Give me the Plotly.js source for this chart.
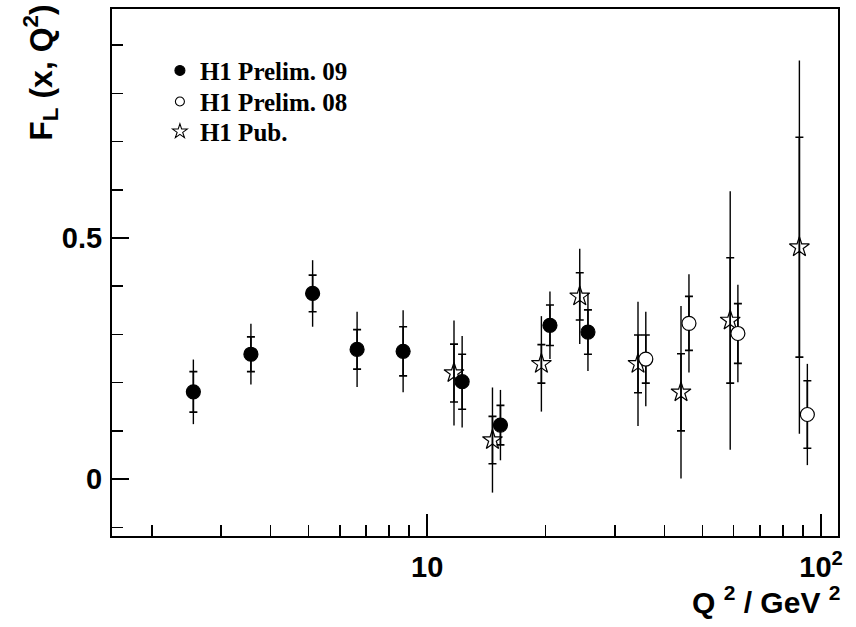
<!DOCTYPE html>
<html>
<head>
<meta charset="utf-8">
<script src="https://cdn.plot.ly/plotly-3.0.1.min.js"></script>
<style>html,body{margin:0;padding:0;background:#fff;}#plot{width:856px;height:627px;}</style>
</head>
<body>
<div id="plot"></div>
<script>
// H1 Prelim. 09 (filled circles)
var q2_p09   = [2.55, 3.57, 5.12, 6.64, 8.69, 12.27, 15.35, 20.5, 25.6];
var fl_p09   = [0.181, 0.259, 0.385, 0.269, 0.265, 0.202, 0.112, 0.319, 0.305];
var stat_p09 = [0.042, 0.036, 0.038, 0.041, 0.051, 0.057, 0.041, 0.042, 0.046];
var tot_p09  = [0.067, 0.063, 0.069, 0.078, 0.085, 0.095, 0.073, 0.070, 0.081];

// H1 Prelim. 08 (open circles)
var q2_p08   = [35.9, 46.2, 61.5, 92.3];
var fl_p08   = [0.249, 0.323, 0.302, 0.134];
var stat_p08 = [0.050, 0.056, 0.062, 0.070];
var tot_p08  = [0.098, 0.102, 0.101, 0.105];

// H1 Pub. (open stars)
var q2_pub   = [11.7, 14.65, 19.5, 24.4, 34.3, 44.1, 58.8, 88.1];
var fl_pub   = [0.220, 0.081, 0.239, 0.379, 0.239, 0.180, 0.329, 0.481];
var stat_pub = [0.060, 0.049, 0.040, 0.049, 0.060, 0.080, 0.130, 0.228];
var tot_pub  = [0.109, 0.109, 0.099, 0.099, 0.129, 0.179, 0.268, 0.387];

var names = ['H1 Prelim. 09', 'H1 Prelim. 08', 'H1 Pub.'];
var xTickVals = [10, 100];
var xTickText = ['10', '10<sup>2</sup>'];
var xMinorVals = [2, 3, 4, 5, 6, 7, 8, 9, 20, 30, 40, 50, 60, 70, 80, 90];
var yTickVals = [0, 0.5];
var yTickText = ['0', '0.5'];

function outer(x, y, e) {
  return {x: x, y: y, type: 'scatter', mode: 'markers', showlegend: false, hoverinfo: 'skip',
    marker: {opacity: 0, size: 2},
    error_y: {type: 'data', symmetric: true, array: e, color: '#000', thickness: 1.4, width: 0}};
}
function inner(x, y, e, sym, fill, size) {
  return {x: x, y: y, type: 'scatter', mode: 'markers', showlegend: false,
    marker: {symbol: sym, size: size, color: fill, line: {color: '#000', width: 1.2}},
    error_y: {type: 'data', symmetric: true, array: e, color: '#000', thickness: 1.6, width: 4}};
}
function legendOnly(name, sym, fill, size, lg) {
  return {x: [null], y: [null], type: 'scatter', mode: 'markers', name: name, legend: lg,
    marker: {symbol: sym, size: size, color: fill, line: {color: '#000', width: 1.1}}};
}

var data = [
  outer(q2_pub, fl_pub, tot_pub),
  inner(q2_pub, fl_pub, stat_pub, 'star-open', '#000', 15),
  outer(q2_p08, fl_p08, tot_p08),
  inner(q2_p08, fl_p08, stat_p08, 'circle', '#fff', 14),
  outer(q2_p09, fl_p09, tot_p09),
  inner(q2_p09, fl_p09, stat_p09, 'circle', '#000', 14),
  legendOnly(names[0], 'circle', '#000', 10, 'legend'),
  legendOnly(names[1], 'circle', '#fff', 9, 'legend2'),
  legendOnly(names[2], 'star-open', '#000', 11, 'legend3')
];

var axFont = {family: 'Liberation Sans, Arial, sans-serif', size: 29, color: '#000', weight: 'bold'};
var legFont = {family: 'Liberation Serif, Times New Roman, serif', size: 25, color: '#000', weight: 'bold'};
function legBox(yPix) {
  return {x: 0.066, y: 1 - (yPix - 9) / 527, xanchor: 'left', yanchor: 'middle',
    bgcolor: 'rgba(0,0,0,0)', borderwidth: 0, font: legFont};
}

var layout = {
  width: 856, height: 627,
  margin: {l: 112, r: 18, t: 9, b: 91},
  paper_bgcolor: '#fff', plot_bgcolor: '#fff',
  showlegend: true,
  legend: legBox(70.7),
  legend2: legBox(101.7),
  legend3: legBox(131.7),
  xaxis: {type: 'log', range: [0.2, 2.043], showline: true, linewidth: 2, linecolor: '#000', mirror: true,
    showgrid: false, zeroline: false, ticks: 'inside', ticklen: 22, tickwidth: 1.5, tickcolor: '#000',
    tickmode: 'array', tickvals: xTickVals, ticktext: xTickText, tickfont: axFont, ticklabelstandoff: 4,
    minor: {tickmode: 'array', tickvals: xMinorVals, ticks: 'inside', ticklen: 11, tickwidth: 1.5, tickcolor: '#000', showgrid: false}},
  yaxis: {range: [-0.118, 0.975], showline: true, linewidth: 2, linecolor: '#000', mirror: true,
    showgrid: false, zeroline: false, ticks: 'inside', ticklen: 17, tickwidth: 1.5, tickcolor: '#000',
    tickmode: 'array', tickvals: yTickVals, ticktext: yTickText, tickfont: axFont, ticklabelstandoff: 2,
    minor: {dtick: 0.1, tick0: 0, ticks: 'inside', ticklen: 11, tickwidth: 1.5, tickcolor: '#000', showgrid: false}},
  annotations: [
    {text: 'F<sub>L</sub> (x, Q<sup>2</sup>)', textangle: -90, xref: 'paper', yref: 'paper',
      x: (41 - 112) / 726, y: 1.012, xanchor: 'center', yanchor: 'top', showarrow: false,
      font: {family: 'Liberation Sans, Arial, sans-serif', size: 32, color: '#000', weight: 'bold'}},
    {text: 'Q <sup>2</sup> / GeV <sup>2</sup>', xref: 'paper', yref: 'paper',
      x: 1.005, y: -0.082, xanchor: 'right', yanchor: 'top', showarrow: false,
      font: {family: 'Liberation Sans, Arial, sans-serif', size: 30, color: '#000', weight: 'bold'}}
  ]
};

Plotly.newPlot('plot', data, layout, {displayModeBar: false, staticPlot: true});
</script>
</body>
</html>
